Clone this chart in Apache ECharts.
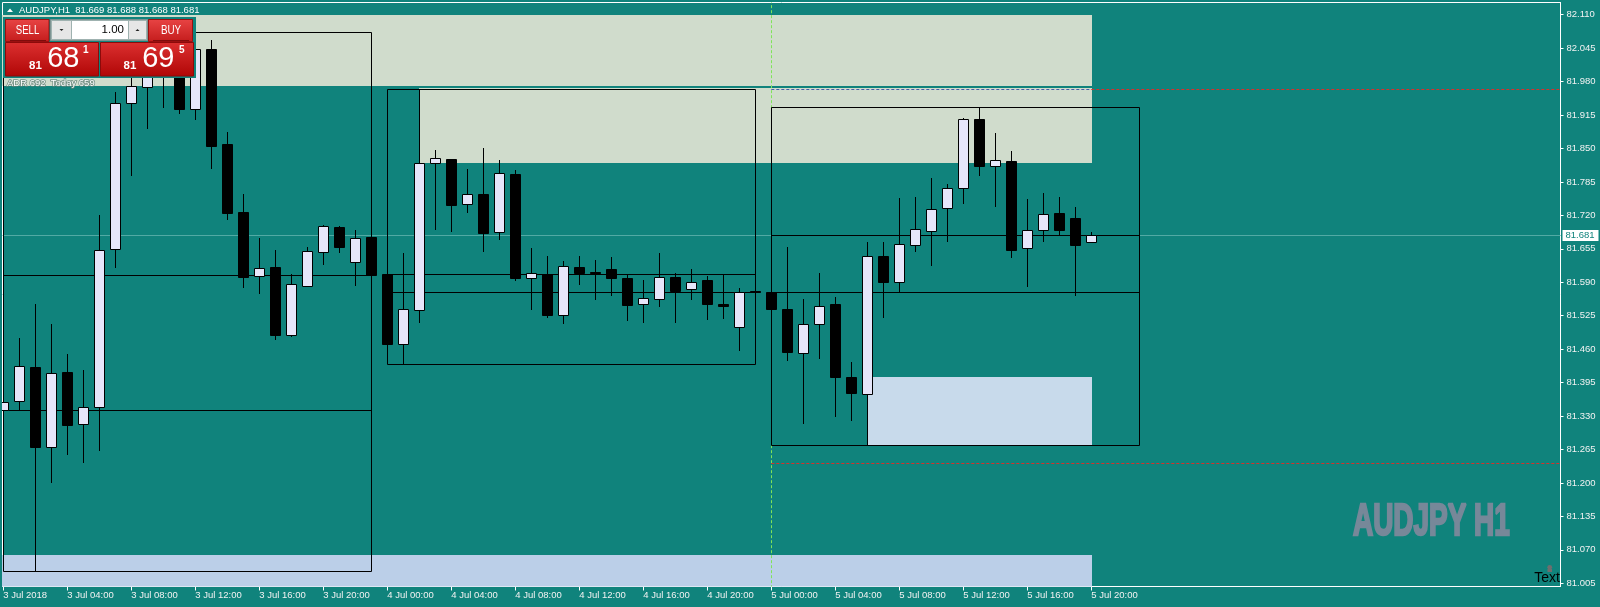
<!DOCTYPE html>
<html>
<head>
<meta charset="utf-8">
<script src="https://cdn.jsdelivr.net/npm/echarts@6/dist/echarts.min.js"></script>
<style>
html,body{margin:0;padding:0;background:#10837c;}
#c{width:1600px;height:607px;}
</style>
</head>
<body>
<div id="c"></div>
<script>
// ---------- DATA (AUDJPY H1, 3 Jul 2018 00:00 .. 5 Jul 2018 20:00) ----------
const opens  = [81.341,81.359,81.425,81.269,81.415,81.315,81.347,81.654,81.938,81.970,82.030,82.005,81.926,82.043,81.858,81.726,81.603,81.619,81.487,81.583,81.648,81.697,81.629,81.678,
                81.606,81.471,81.536,81.821,81.829,81.742,81.761,81.687,81.800,81.598,81.606,81.526,81.620,81.610,81.615,81.598,81.547,81.557,81.600,81.576,81.594,81.548,81.503,81.573,
                81.572,81.538,81.452,81.508,81.548,81.406,81.372,81.641,81.591,81.663,81.690,81.734,81.773,81.907,81.815,81.825,81.656,81.691,81.724,81.714,81.669];
const highs  = [81.362,81.481,81.548,81.509,81.451,81.420,81.721,81.960,82.005,82.050,82.076,82.040,82.060,82.060,81.882,81.762,81.677,81.653,81.606,81.658,81.701,81.699,81.691,81.680,
                81.610,81.647,81.966,81.847,81.830,81.810,81.850,81.828,81.808,81.657,81.641,81.631,81.641,81.633,81.639,81.604,81.594,81.647,81.608,81.616,81.602,81.606,81.579,81.575,
                81.575,81.659,81.558,81.608,81.561,81.435,81.668,81.668,81.754,81.756,81.793,81.781,81.909,81.930,81.880,81.845,81.752,81.764,81.756,81.736,81.688];
const lows   = [81.338,81.341,81.028,81.201,81.257,81.241,81.265,81.620,81.799,81.889,81.931,81.918,81.907,81.813,81.713,81.580,81.570,81.480,81.486,81.582,81.626,81.649,81.585,81.603,
                81.468,81.431,81.513,81.693,81.690,81.727,81.651,81.675,81.595,81.539,81.523,81.510,81.587,81.558,81.565,81.517,81.513,81.543,81.513,81.558,81.519,81.521,81.459,81.570,
                81.536,81.438,81.317,81.442,81.331,81.322,81.273,81.523,81.572,81.651,81.624,81.671,81.745,81.799,81.738,81.640,81.583,81.671,81.682,81.566,81.668];
const closes = [81.358,81.427,81.269,81.413,81.313,81.347,81.653,81.938,81.971,82.030,82.005,81.927,82.043,81.855,81.725,81.601,81.617,81.488,81.586,81.650,81.699,81.659,81.677,81.605,
                81.471,81.538,81.821,81.831,81.741,81.761,81.686,81.802,81.599,81.608,81.527,81.621,81.609,81.609,81.599,81.546,81.559,81.600,81.573,81.591,81.548,81.543,81.572,81.572,
                81.539,81.455,81.508,81.543,81.405,81.374,81.641,81.591,81.664,81.693,81.732,81.773,81.907,81.815,81.827,81.653,81.691,81.722,81.692,81.663,81.681];

const xTickIndex  = [0,4,8,12,16,20,24,28,32,36,40,44,48,52,56,60,64,68];
const xTickLabels = ['3 Jul 2018','3 Jul 04:00','3 Jul 08:00','3 Jul 12:00','3 Jul 16:00','3 Jul 20:00',
                     '4 Jul 00:00','4 Jul 04:00','4 Jul 08:00','4 Jul 12:00','4 Jul 16:00','4 Jul 20:00',
                     '5 Jul 00:00','5 Jul 04:00','5 Jul 08:00','5 Jul 12:00','5 Jul 16:00','5 Jul 20:00'];
const yTickValues = [81.005,81.070,81.135,81.200,81.265,81.330,81.395,81.460,81.525,81.590,81.655,81.720,81.785,81.850,81.915,81.980,82.045,82.110];

// zones: [fromBar, toBar, upperPrice, lowerPrice]
const supplyZones  = [[-5,68,82.109,81.971],[26,68,81.968,81.822]];
const demandZoneD1 = [[-5,68,81.060,80.900]];
const demandZoneH1 = [[54,68,81.406,81.2725]];
const dayStarts    = [0,24,48];
const levelPrices  = [81.965,81.238];
const levelFromBar = 48;
const separatorBar = 48;

const symbolTitle = 'AUDJPY,H1';
const bidParts = ['81','68','1'];
const askParts = ['81','69','5'];
const lotText = '1.00';
const adrText = 'ADR 692  Today 659';
const watermark = 'AUDJPY H1';

// ---------- BUILD ----------
const BG = '#10837c';
const FONT = '"Liberation Sans", Arial, sans-serif';
const last = closes.length - 1;
const currentPrice = closes[last];
const candleData = opens.map((o, i) => [i, o, closes[i], lows[i], highs[i]]);
const boxData = dayStarts.map(s => {
  const e = Math.min(s + 23, last);
  return [s, s + 23, Math.max(...highs.slice(s, e + 1)), Math.min(...lows.slice(s, e + 1)), opens[s], closes[e]];
});
const fmt3 = v => v.toFixed(3);
const titleText = symbolTitle + '  ' + [opens[last], highs[last], lows[last], closes[last]].map(fmt3).join(' ');

const cy = y => Math.round(y) + 0.5;
const cx = x => Math.floor(x) + 0.5;

function zoneSeries(data, color, z) {
  return {
    type: 'custom', z, clip: true, silent: true, data,
    encode: { x: [0, 1], y: [2, 3] },
    renderItem(params, api) {
      const a = api.coord([api.value(0), api.value(2)]);
      const b = api.coord([api.value(1), api.value(3)]);
      const x1 = Math.floor(a[0]), x2 = Math.floor(b[0]) + 1;
      const y1 = Math.round(a[1]), y2 = Math.round(b[1]);
      return { type: 'rect', shape: { x: x1, y: y1, width: x2 - x1, height: y2 - y1 }, style: { fill: color } };
    }
  };
}
function lineSeries(data, style, z) {
  return {
    type: 'custom', z, clip: true, silent: true, data,
    encode: { x: [0, 2], y: [1, 3] },
    renderItem(params, api) {
      const a = api.coord([api.value(0), api.value(1)]);
      const b = api.coord([api.value(2), api.value(3)]);
      let x1 = a[0], y1 = a[1], x2 = b[0], y2 = b[1];
      if (Math.abs(y1 - y2) < 0.01) { y1 = y2 = cy(y1); }
      if (Math.abs(x1 - x2) < 0.01) { x1 = x2 = cx(x1); }
      return { type: 'line', shape: { x1, y1, x2, y2 }, style: Object.assign({ lineWidth: 1, fill: null }, style) };
    }
  };
}

const boxSeries = {
  type: 'custom', z: 4, clip: true, silent: true, data: boxData,
  encode: { x: [0, 1], y: [2, 3] },
  renderItem(params, api) {
    const s = api.value(0), e = api.value(1);
    const tl = api.coord([s, api.value(2)]), br = api.coord([e, api.value(3)]);
    const po = api.coord([s, api.value(4)]), pc = api.coord([s, api.value(5)]);
    const x1 = cx(tl[0]), x2 = cx(br[0]), y1 = cy(tl[1]), y2 = cy(br[1]);
    const st = { stroke: '#000', lineWidth: 1, fill: null };
    return { type: 'group', children: [
      { type: 'rect', shape: { x: x1, y: y1, width: x2 - x1, height: y2 - y1 }, style: st },
      { type: 'line', shape: { x1, y1: cy(po[1]), x2, y2: cy(po[1]) }, style: st },
      { type: 'line', shape: { x1, y1: cy(pc[1]), x2, y2: cy(pc[1]) }, style: st }
    ]};
  }
};

const candleSeries = {
  type: 'custom', z: 6, clip: true, silent: true, data: candleData,
  encode: { x: 0, y: [1, 2, 3, 4] },
  renderItem(params, api) {
    const i = api.value(0), o = api.value(1), c = api.value(2), l = api.value(3), h = api.value(4);
    const pO = api.coord([i, o]), pC = api.coord([i, c]), pL = api.coord([i, l]), pH = api.coord([i, h]);
    const x = cx(pO[0]);
    const half = 5;
    const yT = cy(Math.min(pO[1], pC[1])), yB = cy(Math.max(pO[1], pC[1]));
    const up = c > o;
    return { type: 'group', children: [
      { type: 'line', shape: { x1: x, y1: Math.round(pH[1]), x2: x, y2: Math.round(pL[1]) + 1 }, style: { stroke: '#000', lineWidth: 1 } },
      { type: 'rect', shape: { x: x - half, y: yT, width: half * 2, height: yB - yT }, style: { fill: up ? '#e6e6fa' : '#000', stroke: '#000', lineWidth: 1 } }
    ]};
  }
};

// current price line with its label on the price scale
const priceLineSeries = {
  type: 'custom', z: 2, clip: false, silent: true, data: [[-0.05, currentPrice, 97.325, currentPrice]],
  encode: { x: [0, 2], y: [1, 3] },
  renderItem(params, api) {
    const a = api.coord([api.value(0), api.value(1)]);
    const b = api.coord([api.value(2), api.value(3)]);
    const y = cy(a[1]);
    return { type: 'group', children: [
      { type: 'line', shape: { x1: a[0], y1: y, x2: b[0], y2: y }, style: { stroke: '#52aaa4', lineWidth: 1 } },
      { type: 'rect', shape: { x: b[0] + 2, y: y - 5.5, width: 36, height: 11 }, style: { fill: '#ffffff' } },
      { type: 'text', x: b[0] + 5, y: y, style: { text: fmt3(api.value(1)), fill: '#10837c', font: '9.5px ' + FONT, verticalAlign: 'middle' } }
    ]};
  }
};

const separatorData = [[separatorBar, 80.5, separatorBar, 82.5]];
const levelBlueData = [[levelFromBar, levelPrices[0], 68, levelPrices[0]]];
const levelRedData  = [[68, levelPrices[0], 110, levelPrices[0]], [levelFromBar, levelPrices[1], 110, levelPrices[1]]];

const redGrad = (a, b) => ({ type: 'linear', x: 0, y: 0, x2: 0, y2: 1, colorStops: [{ offset: 0, color: a }, { offset: 1, color: b }] });

const G = [];
// title
G.push({ type: 'polygon', shape: { points: [[7, 12], [13, 12], [10, 8.5]] }, style: { fill: '#fff' } });
G.push({ type: 'text', x: 19, y: 10, style: { text: titleText, fill: '#ffffff', font: '9.5px ' + FONT, verticalAlign: 'middle' } });
// trade panel
G.push({ type: 'rect', shape: { x: 3, y: 17, width: 193, height: 61 }, style: { fill: BG } });
G.push({ type: 'rect', shape: { x: 5.5, y: 19.5, width: 43.5, height: 22 }, style: { fill: redGrad('#e84444', '#c41c1c'), stroke: '#9a1010', lineWidth: 1 } });
G.push({ type: 'text', x: 27.5, y: 30.5, scaleX: 0.8, style: { text: 'SELL', fill: '#fff', font: '12px ' + FONT, align: 'center', verticalAlign: 'middle' } });
G.push({ type: 'line', shape: { x1: 10, y1: 40.5, x2: 46, y2: 40.5 }, style: { stroke: 'rgba(120,10,10,0.9)', lineWidth: 1 } });
G.push({ type: 'rect', shape: { x: 50.5, y: 19.5, width: 97, height: 21 }, style: { fill: '#9fb2b0', stroke: '#7d9492', lineWidth: 1 } });
G.push({ type: 'rect', shape: { x: 52, y: 21, width: 19, height: 18 }, style: { fill: '#e6e6e6' } });
G.push({ type: 'polygon', shape: { points: [[59.5, 29], [63.5, 29], [61.5, 31]] }, style: { fill: '#222' } });
G.push({ type: 'rect', shape: { x: 72, y: 21, width: 56, height: 18 }, style: { fill: '#ffffff' } });
G.push({ type: 'text', x: 124, y: 29.8, style: { text: lotText, fill: '#000', font: '11.5px ' + FONT, align: 'right', verticalAlign: 'middle' } });
G.push({ type: 'rect', shape: { x: 129, y: 21, width: 17, height: 18 }, style: { fill: '#e6e6e6' } });
G.push({ type: 'polygon', shape: { points: [[135.5, 31], [139.5, 31], [137.5, 29]] }, style: { fill: '#222' } });
G.push({ type: 'rect', shape: { x: 148.5, y: 19.5, width: 44, height: 22 }, style: { fill: redGrad('#e84444', '#c41c1c'), stroke: '#9a1010', lineWidth: 1 } });
G.push({ type: 'text', x: 171, y: 30.5, scaleX: 0.82, style: { text: 'BUY', fill: '#fff', font: '12px ' + FONT, align: 'center', verticalAlign: 'middle' } });
G.push({ type: 'line', shape: { x1: 153, y1: 40.5, x2: 189, y2: 40.5 }, style: { stroke: 'rgba(120,10,10,0.9)', lineWidth: 1 } });
// price boxes
G.push({ type: 'rect', shape: { x: 5.5, y: 42.5, width: 93, height: 33.5 }, style: { fill: redGrad('#dc3030', '#b00606'), stroke: '#8c0a0a', lineWidth: 1 } });
G.push({ type: 'rect', shape: { x: 100.5, y: 42.5, width: 93, height: 33.5 }, style: { fill: redGrad('#dc3030', '#b00606'), stroke: '#8c0a0a', lineWidth: 1 } });
G.push({ type: 'text', x: 35.5, y: 65.5, style: { text: bidParts[0], fill: '#fff', font: 'bold 11.5px ' + FONT, align: 'center', verticalAlign: 'middle' } });
G.push({ type: 'text', x: 63.3, y: 58.5, style: { text: bidParts[1], fill: '#fff', font: '29px ' + FONT, align: 'center', verticalAlign: 'middle' } });
G.push({ type: 'text', x: 85.8, y: 50.5, style: { text: bidParts[2], fill: '#fff', font: 'bold 10px ' + FONT, align: 'center', verticalAlign: 'middle' } });
G.push({ type: 'text', x: 130, y: 65.5, style: { text: askParts[0], fill: '#fff', font: 'bold 11.5px ' + FONT, align: 'center', verticalAlign: 'middle' } });
G.push({ type: 'text', x: 158.3, y: 58.5, style: { text: askParts[1], fill: '#fff', font: '29px ' + FONT, align: 'center', verticalAlign: 'middle' } });
G.push({ type: 'text', x: 181.8, y: 50.5, style: { text: askParts[2], fill: '#fff', font: 'bold 10px ' + FONT, align: 'center', verticalAlign: 'middle' } });
// ADR
G.push({ type: 'text', x: 7, y: 83.5, style: { text: adrText, fill: '#ffffff', font: '9.5px ' + FONT, verticalAlign: 'middle',
  stroke: 'rgba(96,128,118,0.85)', lineWidth: 1.6 } });
// watermark
G.push({ type: 'text', x: 1353, y: 522.5, scaleX: 0.635, style: { text: watermark, fill: '#778899', stroke: '#778899', lineWidth: 2.5, font: 'bold 44px ' + FONT, verticalAlign: 'middle' } });
// "Text" label with icon
G.push({ type: 'circle', shape: { cx: 1549.7, cy: 567.3, r: 2.4 }, style: { fill: '#6e6e6e' } });
G.push({ type: 'rect', shape: { x: 1547.5, y: 569, width: 4.5, height: 3 }, style: { fill: '#6e6e6e' } });
G.push({ type: 'text', x: 1560, y: 578, style: { text: 'Text', fill: '#000', font: '14px ' + FONT, align: 'right', verticalAlign: 'middle' } });
G.forEach(e => { e.z = 100; e.silent = true; });

const YMIN = 80.9988, YMAX = 82.1337;
const option = {
  animation: false,
  backgroundColor: BG,
  grid: { left: 2.5, right: 39.5, top: 2.5, bottom: 20.5, show: true, borderColor: '#ffffff', borderWidth: 1, backgroundColor: 'transparent' },
  xAxis: {
    type: 'value', min: -0.05, max: 97.325,
    axisLine: { show: true, onZero: false, lineStyle: { color: '#ffffff', width: 1 } },
    axisTick: { show: true, customValues: xTickIndex, length: 4, inside: false, lineStyle: { color: '#ffffff' } },
    splitLine: { show: false },
    axisLabel: {
      customValues: xTickIndex, align: 'left', margin: 4, color: '#f2f2f2',
      fontFamily: 'Liberation Sans', fontSize: 9.5,
      formatter: v => xTickLabels[xTickIndex.indexOf(Math.round(v))] || ''
    }
  },
  yAxis: {
    type: 'value', position: 'right', min: YMIN, max: YMAX, scale: true,
    axisLine: { show: true, onZero: false, lineStyle: { color: '#ffffff', width: 1 } },
    axisTick: { show: true, customValues: yTickValues, length: 3, inside: false, lineStyle: { color: '#ffffff' } },
    splitLine: { show: false },
    axisLabel: { customValues: yTickValues, margin: 6, color: '#f2f2f2', fontFamily: 'Liberation Sans', fontSize: 9.5, formatter: v => v.toFixed(3) }
  },
  series: [
    zoneSeries(supplyZones, '#d0dccc', 1),
    zoneSeries(demandZoneD1, '#bbcfe8', 1),
    zoneSeries(demandZoneH1, '#c8daeb', 1),
    priceLineSeries,
    lineSeries(separatorData, { stroke: '#7fe35a', lineDash: [3, 2] }, 3),
    boxSeries,
    lineSeries(levelBlueData, { stroke: '#4a5fa8', lineDash: [3, 2] }, 5),
    lineSeries(levelRedData, { stroke: '#d8302a', lineDash: [3, 2] }, 5),
    candleSeries
  ],
  graphic: { elements: G }
};
const chart = echarts.init(document.getElementById('c'), null, { renderer: 'canvas', width: 1600, height: 607 });
chart.setOption(option);
</script>
</body>
</html>
